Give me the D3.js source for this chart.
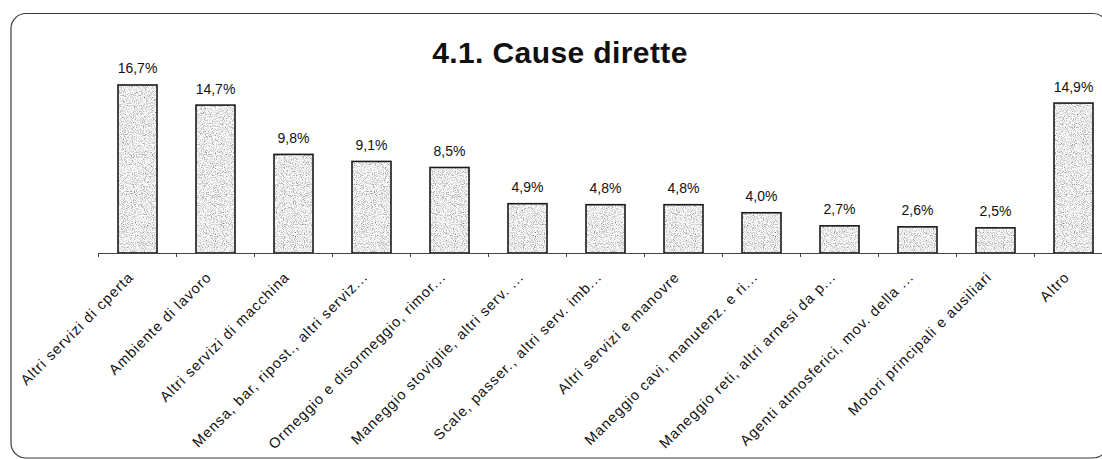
<!DOCTYPE html>
<html>
<head>
<meta charset="utf-8">
<script src="https://cdn.jsdelivr.net/npm/d3@7"></script>
<style>
  html, body { margin: 0; padding: 0; background: #fff; }
  svg { display: block; font-family: Arial, "Liberation Sans", sans-serif; }
</style>
</head>
<body>
<svg id="chart" width="1102" height="459"></svg>
<script>
// Cause dirette degli infortuni (quota percentuale)
const categories = [
  "Altri servizi di cperta",
  "Ambiente di lavoro",
  "Altri servizi di macchina",
  "Mensa, bar, ripost., altri serviz...",
  "Ormeggio e disormeggio, rimor...",
  "Maneggio stoviglie, altri serv. ...",
  "Scale, passer., altri serv. imb...",
  "Altri servizi e manovre",
  "Maneggio cavi, manutenz. e ri...",
  "Maneggio reti, altri arnesi da p...",
  "Agenti atmosferici, mov. della ...",
  "Motori principali e ausiliari",
  "Altro"
];
const values = [16.7, 14.7, 9.8, 9.1, 8.5, 4.9, 4.8, 4.8, 4.0, 2.7, 2.6, 2.5, 14.9];
const title = "4.1. Cause dirette";

const svg = d3.select("#chart");
const baseY = 253;

// grainy grey fill for the bars
const defs = svg.append("defs");
const grain = defs.append("filter").attr("id", "grain")
  .attr("x", 0).attr("y", 0).attr("width", 1).attr("height", 1);
grain.append("feTurbulence").attr("type", "fractalNoise")
  .attr("baseFrequency", 1.1).attr("numOctaves", 2).attr("seed", 7).attr("result", "noise");
grain.append("feColorMatrix").attr("in", "noise").attr("type", "matrix")
  .attr("values", "0 0 0 1.7 -0.02  0 0 0 1.7 -0.02  0 0 0 1.7 -0.02  0 0 0 0 1")
  .attr("result", "grey");
grain.append("feComposite").attr("in", "grey").attr("in2", "SourceGraphic").attr("operator", "in");

const pat = defs.append("pattern").attr("id", "stipple")
  .attr("patternUnits", "userSpaceOnUse").attr("width", 120).attr("height", 240);
pat.append("rect").attr("width", 120).attr("height", 240)
  .attr("fill", "#999").attr("filter", "url(#grain)");

// rounded frame
svg.append("rect")
  .attr("x", 11).attr("y", 13.5).attr("width", 1097).attr("height", 444.5)
  .attr("rx", 15).attr("ry", 15)
  .attr("fill", "none").attr("stroke", "#3a3a3a").attr("stroke-width", 1.2);

// title
svg.append("text")
  .attr("x", 560).attr("y", 63)
  .attr("text-anchor", "middle")
  .attr("font-size", 30).attr("font-weight", "bold")
  .attr("letter-spacing", 0.4)
  .attr("fill", "#111")
  .text(title);

const x = d3.scaleBand()
  .domain(categories)
  .range([98.5, 1112.5])
  .paddingInner(0.5)
  .paddingOuter(0.25);

const y = d3.scaleLinear().domain([0, 18]).range([baseY, baseY - 181.1]);

// bars
svg.append("g").selectAll("rect")
  .data(values)
  .join("rect")
  .attr("x", (d, i) => x(categories[i]))
  .attr("y", d => y(d))
  .attr("width", x.bandwidth())
  .attr("height", d => y(0) - y(d))
  .attr("fill", "url(#stipple)")
  .attr("stroke", "#1a1a1a")
  .attr("stroke-width", 1.6);

// value labels
svg.append("g").selectAll("text")
  .data(values)
  .join("text")
  .attr("x", (d, i) => x(categories[i]) + x.bandwidth() / 2)
  .attr("y", d => y(d) - 11.5)
  .attr("text-anchor", "middle")
  .attr("font-size", 14)
  .attr("fill", "#111")
  .text(d => d.toFixed(1).replace(".", ",") + "%");

// category axis: line plus ticks at slot boundaries
const axis = d3.axisBottom(x).tickSize(0).tickFormat("");
const axG = svg.append("g").attr("transform", `translate(0,${baseY})`).call(axis);
axG.select(".domain").attr("stroke", "#444").attr("stroke-width", 1.2);

const step = x.step();
const bounds = categories.map(c => x(c) - step * 0.25);
axG.selectAll("line.bound")
  .data(bounds)
  .join("line")
  .attr("class", "bound")
  .attr("x1", d => d).attr("x2", d => d)
  .attr("y1", 0).attr("y2", 4)
  .attr("stroke", "#444").attr("stroke-width", 1);

// rotated category labels
svg.append("g").selectAll("text")
  .data(categories)
  .join("text")
  .attr("transform", d => `translate(${x(d) + x.bandwidth() / 2 - 3},${baseY + 25}) rotate(-45)`)
  .attr("text-anchor", "end")
  .attr("font-size", 14.5)
  .attr("letter-spacing", 1.0)
  .attr("fill", "#111")
  .text(d => d);
</script>
</body>
</html>
